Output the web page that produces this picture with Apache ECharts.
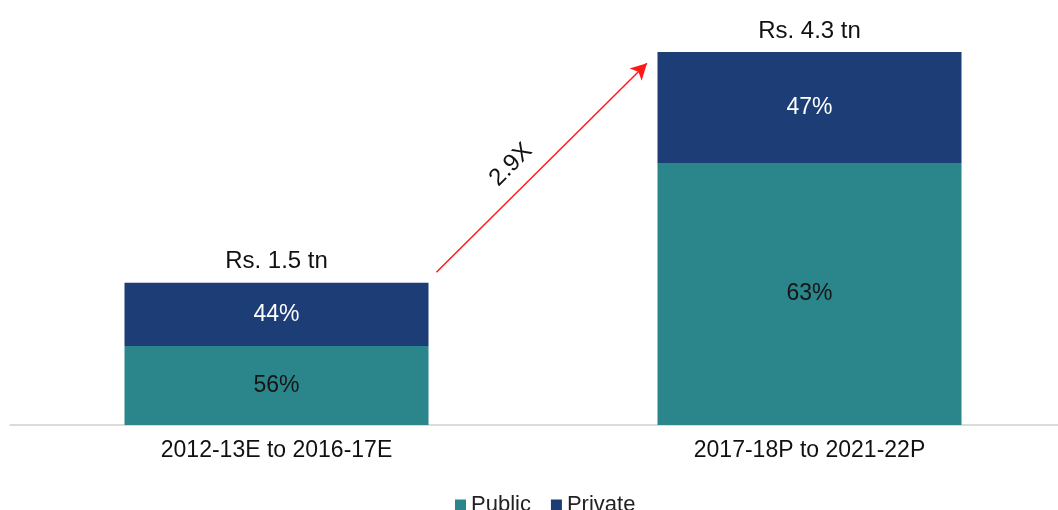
<!DOCTYPE html>
<html>
<head>
<meta charset="utf-8">
<script src="https://cdn.jsdelivr.net/npm/echarts@6/dist/echarts.min.js"></script>
<style>html,body{margin:0;padding:0;background:#fff}#c{width:1058px;height:510px}</style>
</head>
<body>
<div id="c"></div>
<script>
const categories = ['2012-13E to 2016-17E', '2017-18P to 2021-22P'];
const publicValues = [0.91, 3.02];
const privateValues = [0.73, 1.28];
const publicLabels = ['56%', '63%'];
const privateLabels = ['44%', '47%'];
const totalLabels = ['Rs. 1.5 tn', 'Rs. 4.3 tn'];
const growthLabel = '2.9X';
// arrow annotation in data units (x: 0 = first bar centre, 1 = second bar centre)
const arrowStart = [0.30, 1.76];
const arrowEnd = [0.695, 4.17];
const growthLabelPos = [0.44, 3.0];

const FONT = '"Liberation Sans", Arial, sans-serif';
const chart = echarts.init(document.getElementById('c'));
chart.setOption({
  animation: false,
  textStyle: { fontFamily: FONT },
  grid: [
    { left: 276.5, right: 248.5, top: 52, bottom: 85 },
    { left: 10, right: 0, top: 52, bottom: 85 }
  ],
  xAxis: [
    {
      type: 'category', data: categories, gridIndex: 0, boundaryGap: false,
      axisLine: { show: false },
      axisTick: { show: false },
      splitLine: { show: false },
      axisLabel: { color: '#111', fontSize: 23, margin: 14, fontFamily: FONT }
    },
    { type: 'value', min: 0, max: 1, show: false, gridIndex: 0 },
    {
      type: 'value', gridIndex: 1, min: 0, max: 1,
      axisLine: { show: true, onZero: false, lineStyle: { color: '#d0d0d0', width: 1.5 } },
      axisTick: { show: false }, axisLabel: { show: false }, splitLine: { show: false }
    }
  ],
  yAxis: [
    { type: 'value', min: 0, max: 4.3, show: false, gridIndex: 0, splitLine: { show: false } },
    { type: 'value', min: 0, max: 4.3, show: false, gridIndex: 1, splitLine: { show: false } }
  ],
  legend: {
    data: ['Public', 'Private'],
    left: 450, top: 489,
    icon: 'rect', itemWidth: 11, itemHeight: 11, itemGap: 20,
    textStyle: { fontSize: 22, color: '#222', fontFamily: FONT }
  },
  series: [
    {
      name: 'Public', type: 'bar', stack: 'total', barWidth: 304,
      data: publicValues,
      itemStyle: { color: '#2A868A' },
      label: {
        show: true, position: 'inside', fontSize: 23, color: '#151515', fontFamily: FONT,
        formatter: p => publicLabels[p.dataIndex]
      }
    },
    {
      name: 'Private', type: 'bar', stack: 'total', barWidth: 304,
      data: privateValues,
      itemStyle: { color: '#1C3D75' },
      label: {
        show: true, position: 'inside', fontSize: 23, color: '#fff', fontFamily: FONT,
        formatter: p => privateLabels[p.dataIndex]
      }
    },
    {
      name: 'Total', type: 'bar', stack: 'total', barWidth: 304,
      data: [0, 0],
      itemStyle: { color: 'transparent' },
      label: {
        show: true, position: 'top', distance: 9, fontSize: 24, color: '#111', fontFamily: FONT,
        formatter: p => totalLabels[p.dataIndex]
      },
      tooltip: { show: false }
    },
    {
      name: 'arrow', type: 'line', xAxisIndex: 1, yAxisIndex: 0, data: [],
      markLine: {
        silent: true,
        symbol: ['none', 'arrow'], symbolSize: [13, 16],
        lineStyle: { color: '#ff1a1a', width: 1.5, type: 'solid' },
        label: { show: false },
        data: [[{ coord: arrowStart }, { coord: arrowEnd }]]
      }
    },
    { name: 'baseline', type: 'line', xAxisIndex: 2, yAxisIndex: 1, data: [] }
  ]
});

const p = chart.convertToPixel({ xAxisIndex: 1, yAxisIndex: 0 }, growthLabelPos);
chart.setOption({
  graphic: [{
    type: 'text', x: p[0], y: p[1], rotation: Math.PI / 4,
    style: { text: growthLabel, font: '24px ' + FONT, fill: '#111', align: 'center', verticalAlign: 'middle' }
  }]
});
</script>
</body>
</html>
